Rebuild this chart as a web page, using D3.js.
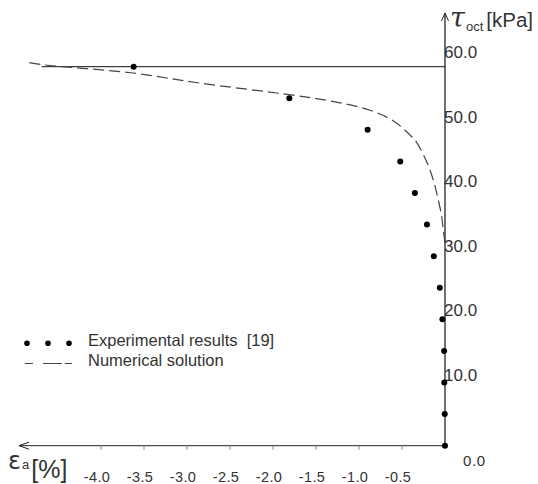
<!DOCTYPE html>
<html>
<head>
<meta charset="utf-8">
<script src="https://cdnjs.cloudflare.com/ajax/libs/d3/7.8.5/d3.min.js"></script>
<style>
  body { margin: 0; background: #fff; }
  text { font-family: "Liberation Sans", Arial, sans-serif; fill: #333; }
</style>
</head>
<body>
<script>
// chart size
var w = 538, h = 484;

// ---- data ----
// experimental results [19]
var expStrain = [-3.62, -1.81, -0.90, -0.52, -0.35, -0.21, -0.13, -0.06, -0.03, -0.01, -0.008, -0.003, 0];
var expTau    = [60, 55, 50, 45, 40, 35, 30, 25, 20, 15, 10, 5, 0];
// numerical solution
var numStrain = [0, -0.02, -0.038, -0.078, -0.136, -0.213, -0.349, -0.407, -0.581, -0.87, -1.34, -1.77, -2.85, -3.63, -4.67, -4.86];
var numTau    = [32.1, 34.15, 36.25, 38.9, 42.06, 44.96, 48.4, 49.19, 51.25, 53.1, 54.6, 55.5, 57.4, 59.0, 60.3, 60.7];
// ultimate stress level
var limitTau = 60, limitStart = -4.69;
// tick labels
var xTicks = [-4.0, -3.5, -3.0, -2.5, -2.0, -1.5, -1.0, -0.5];
var yTicks = [10, 20, 30, 40, 50, 60];
var legendLabels = ["Experimental results  [19]", "Numerical solution"];

var svg = d3.select("body").append("svg")
    .attr("width", w)
    .attr("height", h);

var x = d3.scaleLinear().domain([-4, 0]).range([101, 445]);
var y = d3.scaleLinear().domain([0, 60]).range([445.7, 66.7]);

// -------- axes --------
// x axis with arrow to the left
svg.append("line")
    .attr("x1", 19).attr("x2", x(0))
    .attr("y1", y(0)).attr("y2", y(0))
    .attr("stroke", "#222").attr("stroke-width", 1);
svg.append("path")
    .attr("d", "M" + 29 + "," + (y(0) - 3.5) + "L19," + y(0) + "L29," + (y(0) + 3.5))
    .attr("fill", "none").attr("stroke", "#222");

// y axis with arrow on top
svg.append("line")
    .attr("x1", x(0)).attr("x2", x(0))
    .attr("y1", y(0)).attr("y2", 13)
    .attr("stroke", "#111").attr("stroke-width", 1.2);
svg.append("path")
    .attr("d", "M" + (x(0) - 3.5) + ",21L" + x(0) + ",13L" + (x(0) + 3.5) + ",21")
    .attr("fill", "none").attr("stroke", "#222");

// small x ticks
svg.selectAll(".xtick")
    .data(xTicks)
    .enter().append("line")
    .attr("class", "xtick")
    .attr("x1", function(d) { return x(d); })
    .attr("x2", function(d) { return x(d); })
    .attr("y1", y(0)).attr("y2", y(0) + 4)
    .attr("stroke", "#888");

svg.selectAll(".xlabel")
    .data(xTicks)
    .enter().append("text")
    .attr("class", "xlabel")
    .attr("x", function(d) { return x(d) - 4; })
    .attr("y", 481.5)
    .attr("text-anchor", "middle")
    .attr("font-size", 14.5)
    .attr("letter-spacing", 0.4)
    .text(function(d) { return d.toFixed(1); });

svg.selectAll(".ylabel")
    .data(yTicks)
    .enter().append("text")
    .attr("class", "ylabel")
    .attr("x", x(0) - 1)
    .attr("y", function(d) { return y(d * 1.023); })
    .attr("font-size", 17)
    .text(function(d) { return d.toFixed(1); });

// 0.0 sits below-right of the origin
svg.append("text")
    .attr("x", x(0) + 18)
    .attr("y", 465.5)
    .attr("font-size", 15)
    .attr("letter-spacing", 0.6)
    .text("0.0");

// axis titles
var yt = svg.append("text")
    .attr("x", 450)
    .attr("y", 27);
yt.append("tspan").attr("font-size", 27).attr("font-style", "italic")
    .attr("font-family", "DejaVu Serif").text("τ");
yt.append("tspan").attr("font-size", 13).attr("dy", 4).attr("dx", 1).text("oct");
yt.append("tspan").attr("font-size", 20.5).attr("dy", -4).attr("dx", 3).text("[kPa]");

var xt = svg.append("text")
    .attr("x", 8)
    .attr("y", 469);
xt.append("tspan").attr("font-size", 24).attr("font-family", "DejaVu Sans").text("ε");
xt.append("tspan").attr("font-size", 13).attr("dx", 1).text("a");
xt.append("tspan").attr("font-size", 25).attr("dx", 2).attr("dy", 9).text("[%]");

// -------- marks --------
// horizontal line at ultimate stress
svg.append("line")
    .attr("x1", x(limitStart)).attr("x2", x(0))
    .attr("y1", y(limitTau)).attr("y2", y(limitTau))
    .attr("stroke", "#111").attr("stroke-width", 1);

var numData = numStrain.map(function(d, i) { return [d, numTau[i]]; });
var line = d3.line()
    .x(function(d) { return x(d[0]); })
    .y(function(d) { return y(d[1]); })
    .curve(d3.curveCatmullRom);

svg.append("path")
    .datum(numData)
    .attr("d", line)
    .attr("fill", "none")
    .attr("stroke", "#444")
    .attr("stroke-width", 1.2)
    .attr("stroke-dasharray", "11,5");

var expData = expStrain.map(function(d, i) { return [d, expTau[i]]; });
svg.selectAll(".dot")
    .data(expData)
    .enter().append("circle")
    .attr("class", "dot")
    .attr("cx", function(d) { return x(d[0]); })
    .attr("cy", function(d) { return y(d[1]); })
    .attr("r", 3)
    .attr("fill", "#000");

// -------- legend --------
svg.selectAll(".ldot")
    .data([27, 48, 69])
    .enter().append("circle")
    .attr("class", "ldot")
    .attr("cx", function(d) { return d; })
    .attr("cy", 343.3)
    .attr("r", 2.8)
    .attr("fill", "#000");

svg.append("line")
    .attr("x1", 25).attr("x2", 72)
    .attr("y1", 363.5).attr("y2", 363.5)
    .attr("stroke", "#444").attr("stroke-width", 1.2)
    .attr("stroke-dasharray", "8,10,19,3,7");

svg.selectAll(".ltext")
    .data(legendLabels)
    .enter().append("text")
    .attr("class", "ltext")
    .attr("x", 88)
    .attr("y", function(d, i) { return 345.7 + i * 20; })
    .attr("font-size", 16.5)
    .style("white-space", "pre")
    .text(function(d) { return d; });
</script>
</body>
</html>
